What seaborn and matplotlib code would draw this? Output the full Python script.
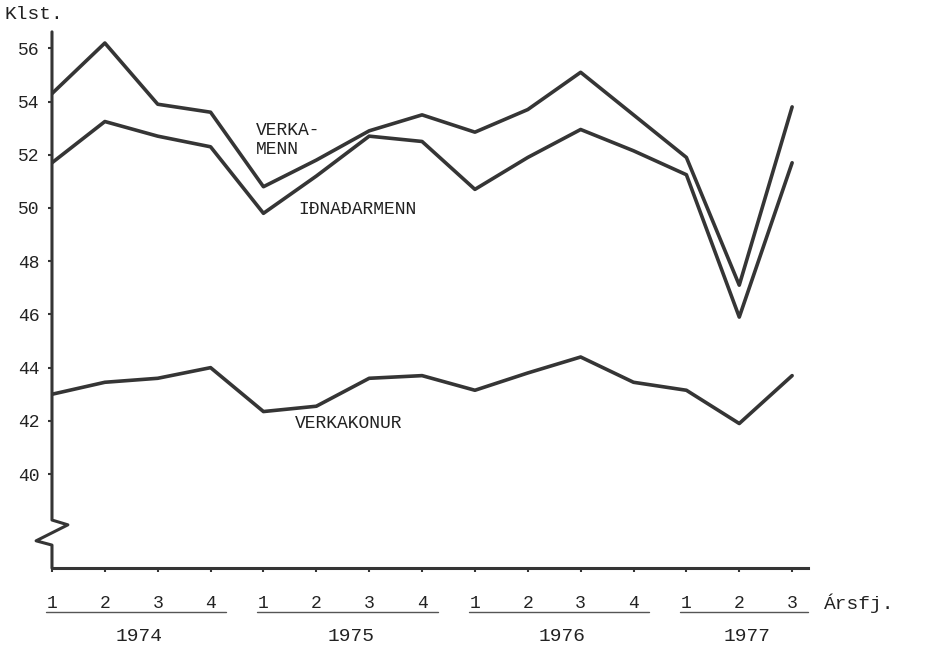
import numpy as np
import pandas as pd
import matplotlib.pyplot as plt
import seaborn as sns

# Vinnutími á viku (klst.) eftir ársfjórðungum 1974-1977
quarters = ["1", "2", "3", "4", "1", "2", "3", "4", "1", "2", "3", "4", "1", "2", "3"]
years = ["1974", "1975", "1976", "1977"]
verkamenn = [54.3, 56.2, 53.9, 53.6, 50.8, 51.8, 52.9, 53.5, 52.85, 53.7, 55.1, 53.5, 51.9, 47.1, 53.8]
idnadarmenn = [51.7, 53.25, 52.7, 52.3, 49.8, 51.2, 52.7, 52.5, 50.7, 51.9, 52.95, 52.15, 51.25, 45.9, 51.7]
verkakonur = [43.0, 43.45, 43.6, 44.0, 42.35, 42.55, 43.6, 43.7, 43.15, 43.8, 44.4, 43.45, 43.15, 41.9, 43.7]
y_ticks = [40, 42, 44, 46, 48, 50, 52, 54, 56]

idx = np.arange(len(quarters))
df = pd.concat([
    pd.DataFrame({"t": idx, "klst": verkamenn, "hopur": "VERKAMENN"}),
    pd.DataFrame({"t": idx, "klst": idnadarmenn, "hopur": "IÐNAÐARMENN"}),
    pd.DataFrame({"t": idx, "klst": verkakonur, "hopur": "VERKAKONUR"}),
])

sns.set_style("ticks")
plt.rcParams["font.family"] = ["Liberation Mono", "DejaVu Sans Mono"]
ink = "#353535"
txt = "#222222"

fig = plt.figure(figsize=(9.25, 6.49), dpi=100)
ax = fig.add_axes([0.0562, 0.1248, 0.8173, 0.8212])

sns.lineplot(data=df, x="t", y="klst", hue="hopur",
             palette=[ink, ink, ink], linewidth=2.6, legend=False, ax=ax)

ax.set_xlim(0, 14.3)
ax.set_ylim(36.47, 56.5)
ax.set_yticks(y_ticks)
ax.set_yticklabels([str(v) for v in y_ticks], fontsize=13)
ax.set_xticks(idx)
ax.set_xticklabels([])
ax.tick_params(axis="y", direction="out", length=3, width=1.5, pad=6, colors=ink, labelcolor=txt)
ax.tick_params(axis="x", direction="out", length=3, width=1.5, colors=ink)
ax.set_xlabel("")
ax.set_ylabel("")

for s in ["top", "right", "left"]:
    ax.spines[s].set_visible(False)
ax.spines["bottom"].set_color(ink)
ax.spines["bottom"].set_linewidth(2.2)

# vinstri ás með broti
ax.plot([0, 0, 0.021, -0.021, 0, 0], [1.006, 0.090, 0.081, 0.051, 0.043, 0],
        transform=ax.transAxes, color=ink, lw=2.2, clip_on=False)

# fjórðungar og ár undir ásnum
trans = ax.get_xaxis_transform()
for i, q in enumerate(quarters):
    ax.text(i, -0.066, q, transform=trans, ha="center", va="center", fontsize=13, color=txt)
for k, yr in enumerate(years):
    first = 4 * k
    last = min(4 * k + 3, len(quarters) - 1)
    ax.plot([first - 0.12, last + 0.3], [-0.083, -0.083], transform=trans,
            color="#555555", lw=1.0, clip_on=False)
    ax.text((first + last) / 2 + 0.15, -0.129, yr, transform=trans, ha="center", va="center",
            fontsize=14, color=txt)

ax.text(14.6, -0.066, "Ársfj.", transform=trans, ha="left", va="center",
        fontsize=14, color=txt)
fig.text(0.005, 0.977, "Klst.", ha="left", va="center", fontsize=14, color=txt)

# nöfn lína
ax.text(3.85, 52.55, "VERKA-\nMENN", ha="left", va="center", fontsize=13, color=txt,
        linespacing=1.15)
ax.text(4.65, 49.95, "IÐNAÐARMENN", ha="left", va="center", fontsize=13, color=txt)
ax.text(4.6, 41.9, "VERKAKONUR", ha="left", va="center", fontsize=13, color=txt)

fig.savefig("out.png", dpi=100)
